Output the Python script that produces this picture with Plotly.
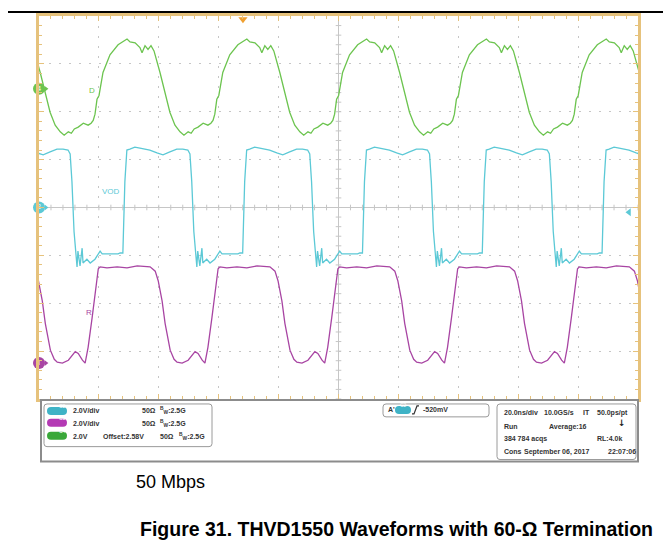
import numpy as np
import plotly.graph_objects as go

# one period of each trace
# time in ns after the rising edge, level in divisions (0 = centre line)
D_T = [0, 0.67, 1.34, 2.67, 5.0, 7.7, 9.7, 10.7, 11.7, 13.4, 15.0, 15.7, 16.7, 17.7, 18.7, 19.7,
       21.7, 23.4, 25.0, 26.7, 28.4, 29.7, 31.1, 32.1, 33.1, 34.4, 36.1, 37.7, 38.7, 39.4]
D_V = [1.95, 2.26, 2.34, 2.82, 3.19, 3.40, 3.48, 3.52, 3.46, 3.44, 3.34, 3.23, 3.38, 3.30, 3.38, 3.27,
       2.82, 2.40, 1.99, 1.72, 1.58, 1.51, 1.58, 1.55, 1.64, 1.68, 1.76, 1.72, 1.76, 1.82]
D_EDGES = [-21.3, 18.7, 58.7, 98.7, 138.7, 178.7]

VOD_T = [0, 0.67, 1.34, 2.34, 4.0, 5.7, 7.3, 9.0, 11.4, 13.4, 15.7, 18.0, 20.0, 21.7, 22.4, 23.0,
         23.7, 24.4, 24.7, 25.0, 25.7, 26.4, 26.7, 28.0, 29.1, 30.7, 32.4, 33.1, 35.1, 38.4, 39.1]
VOD_V = [-0.95, 0.54, 1.20, 1.22, 1.26, 1.24, 1.22, 1.20, 1.14, 1.10, 1.16, 1.22, 1.22, 1.20, 1.12, 0.54,
         -0.50, -1.16, -1.24, -0.91, -1.22, -0.85, -1.16, -1.08, -1.16, -1.08, -0.91, -0.97, -0.97, -0.97, -0.95]
VOD_EDGES = [-12.0, 28.0, 68.0, 108.0, 148.0, 188.0]

R_T = [0, 1.0, 2.34, 4.0, 4.4, 5.0, 7.3, 10.7, 14.0, 17.4, 20.0, 21.7, 23.4, 24.4, 25.7, 26.7,
       28.4, 29.7, 30.7, 32.4, 34.4, 35.7, 36.7, 37.7, 39.1]
R_V = [-3.25, -2.92, -2.30, -1.47, -1.28, -1.24, -1.26, -1.24, -1.26, -1.22, -1.24, -1.24, -1.33, -1.53, -1.95, -2.42,
       -2.98, -3.17, -3.23, -3.25, -3.19, -3.09, -3.01, -3.05, -3.19]
R_EDGES = [-24.6, 15.4, 55.4, 95.4, 135.4, 175.4]

GREEN = "#6cc44f"
CYAN = "#5cc9d6"
MAGENTA = "#a845a3"
FRAME = "#e6c27c"
GRID = "#c6c6c6"

# screen frame in page pixels; the page body adds an 8px margin around the figure
OFF = 8
L, R, T, B = 39, 638, 13, 399


def px(x):
    return (x - L) / (R - L)


def py(y):
    return (B - y) / (B - T)


def tile(edges, tt, vv):
    x, y = [], []
    for e in edges:
        x += [e + t for t in tt]
        y += list(vv)
    return x, y


def rbox(x0, y0, x1, y1, r):
    return (f"M {px(x0 + r)} {py(y0)} L {px(x1 - r)} {py(y0)} Q {px(x1)} {py(y0)} {px(x1)} {py(y0 + r)} "
            f"L {px(x1)} {py(y1 - r)} Q {px(x1)} {py(y1)} {px(x1 - r)} {py(y1)} "
            f"L {px(x0 + r)} {py(y1)} Q {px(x0)} {py(y1)} {px(x0)} {py(y1 - r)} "
            f"L {px(x0)} {py(y0 + r)} Q {px(x0)} {py(y0)} {px(x0 + r)} {py(y0)} Z")


fig = go.Figure()

# ticks on the centre cross
tx = np.arange(0, 201, 4)
ty = np.arange(-4, 4.01, 0.2)
fig.add_trace(go.Scatter(x=tx, y=np.zeros_like(tx), mode="markers", hoverinfo="skip",
                         marker=dict(symbol="line-ns", size=4, color=GRID, line=dict(color=GRID, width=1))))
fig.add_trace(go.Scatter(x=np.full_like(ty, 100), y=ty, mode="markers", hoverinfo="skip",
                         marker=dict(symbol="line-ew", size=4, color=GRID, line=dict(color=GRID, width=1))))

for edges, tt, vv, col in [(D_EDGES, D_T, D_V, GREEN), (VOD_EDGES, VOD_T, VOD_V, CYAN), (R_EDGES, R_T, R_V, MAGENTA)]:
    x, y = tile(edges, tt, vv)
    fig.add_trace(go.Scatter(x=x, y=y, mode="lines", line=dict(color=col, width=1.3), hoverinfo="skip"))

# channel ground markers on the left
for lvl, col, num in [(2.48, GREEN, "4"), (0.0, CYAN, "2"), (-3.25, MAGENTA, "1")]:
    fig.add_trace(go.Scatter(x=[2.3], y=[lvl], mode="markers", cliponaxis=False,
                             marker=dict(symbol="triangle-right", size=5, color=col)))
    fig.add_trace(go.Scatter(x=[0], y=[lvl], mode="markers+text", cliponaxis=False, text=[num],
                             textfont=dict(size=7, color="white"),
                             marker=dict(symbol="circle", size=12, color=col)))
# trigger position and level markers
fig.add_trace(go.Scatter(x=[68.1], y=[3.93], mode="markers", cliponaxis=False,
                         marker=dict(symbol="triangle-down", size=8, color="#f0a030")))
fig.add_trace(go.Scatter(x=[197.0], y=[-0.1], mode="markers", cliponaxis=False,
                         marker=dict(symbol="triangle-left", size=7, color=CYAN)))

shapes = [
    dict(type="line", xref="x", yref="y", x0=100, x1=100, y0=-4, y1=4, line=dict(color=GRID, width=1), layer="below"),
    dict(type="line", xref="x", yref="y", x0=0, x1=200, y0=0, y1=0, line=dict(color=GRID, width=1), layer="below"),
    dict(type="line", xref="paper", yref="paper", x0=px(0), x1=px(671), y0=py(9), y1=py(9),
         line=dict(color="black", width=2)),
    # info panel
    dict(type="rect", xref="paper", yref="paper", x0=px(41), x1=px(638), y0=py(400), y1=py(462),
         line=dict(color="#8c8c8c", width=2), fillcolor="white"),
    dict(type="path", xref="paper", yref="paper", path=rbox(44, 404, 212, 447, 3),
         line=dict(color="#9a9a9a", width=1)),
    dict(type="path", xref="paper", yref="paper", path=rbox(383, 404, 489, 417, 3),
         line=dict(color="#9a9a9a", width=1)),
    dict(type="path", xref="paper", yref="paper", path=rbox(497, 404, 636, 460, 3),
         line=dict(color="#9a9a9a", width=1)),
    # rising-edge trigger glyph
    dict(type="path", xref="paper", yref="paper",
         path=f"M {px(412)} {py(414)} L {px(414)} {py(414)} L {px(417)} {py(406)} L {px(419)} {py(406)}",
         line=dict(color="#333333", width=1.2)),
]
for y0, col in [(407, "#3fb3c6"), (419, "#b43ab4"), (432, "#3aa83a")]:
    shapes.append(dict(type="path", xref="paper", yref="paper", path=rbox(47, y0, 67, y0 + 8, 4),
                       fillcolor=col, line=dict(width=0)))
shapes.append(dict(type="path", xref="paper", yref="paper", path=rbox(395, 406, 411, 414, 4),
                   fillcolor="#3fb3c6", line=dict(width=0)))

PF = dict(family="Liberation Sans, Arial", size=7, color="#333333")
BW = "<sup>B</sup><sub>W</sub>:2.5G"
panel = [
    (71, 411, "2.0V/div"), (140, 411, "50Ω"), (158, 411, BW),
    (71, 424, "2.0V/div"), (140, 424, "50Ω"), (158, 424, BW),
    (71, 437, "2.0V"), (101, 437, "Offset:2.58V"), (158, 437, "50Ω"), (177, 437, BW),
    (386, 410, "A'"), (421, 410, "-520mV"),
    (502, 413, "20.0ns/div"), (542, 413, "10.0GS/s"), (581, 413, "IT"), (595, 413, "50.0ps/pt"),
    (502, 427, "Run"), (547, 427, "Average:16"),
    (502, 439, "384 784 acqs"), (595, 439, "RL:4.0k"),
    (502, 452, "Cons"), (522, 452, "September 06, 2017"), (606, 452, "22:07:06"),
]
ann = [dict(xref="paper", yref="paper", x=px(x), y=py(y), text=f"<b>{t}</b>", showarrow=False,
            xanchor="left", yanchor="middle", font=PF) for x, y, t in panel]
ann.append(dict(xref="paper", yref="paper", x=px(628), y=py(430), text="<b>↓</b>", showarrow=False,
                font=dict(family="DejaVu Sans", size=9, color="#222222")))
for x, y, t in [(57, 411, "C2"), (57, 423, "C1"), (57, 436, "C4"), (403, 410, "C2")]:
    ann.append(dict(xref="paper", yref="paper", x=px(x), y=py(y), text=t, showarrow=False,
                    font=dict(family="Liberation Sans", size=5, color="white")))
# trace labels
for x, y, t, col in [(87, 82, "D", GREEN), (100, 190, "VOD", CYAN), (84, 318, "R", MAGENTA)]:
    ann.append(dict(xref="paper", yref="paper", x=px(x), y=py(y), text=t, showarrow=False,
                    font=dict(family="Liberation Sans", size=8, color=col)))
ann.append(dict(xref="paper", yref="paper", x=px(134), y=py(483), text="50 Mbps", showarrow=False,
                xanchor="left", yanchor="middle",
                font=dict(family="Liberation Sans, Arial", size=18, color="black")))
ann.append(dict(xref="paper", yref="paper", x=px(138), y=py(530),
                text="<b>Figure 31. THVD1550 Waveforms with 60-Ω Termination</b>", showarrow=False,
                xanchor="left", yanchor="middle",
                font=dict(family="Liberation Sans, Arial", size=19.5, color="black")))

axis_common = dict(showticklabels=False, showgrid=True, gridcolor=GRID, griddash="2px,8px",
                   zeroline=False, showline=True, linecolor=FRAME, linewidth=3, mirror="ticks",
                   ticks="inside", ticklen=5, tickcolor=FRAME, tickwidth=1, fixedrange=True)
fig.update_layout(
    width=671 - OFF, height=558 - OFF,
    margin=dict(l=L - OFF, r=671 - R, t=T - OFF, b=558 - B),
    paper_bgcolor="white", plot_bgcolor="white",
    showlegend=False,
    xaxis=dict(range=[0, 200], dtick=20,
               minor=dict(dtick=4, ticks="inside", ticklen=3, tickcolor=FRAME, showgrid=False),
               **axis_common),
    yaxis=dict(range=[-4, 4], dtick=1,
               minor=dict(dtick=0.2, ticks="inside", ticklen=3, tickcolor=FRAME, showgrid=False),
               **axis_common),
    shapes=shapes,
    annotations=ann,
)

fig.write_html("out.html")
